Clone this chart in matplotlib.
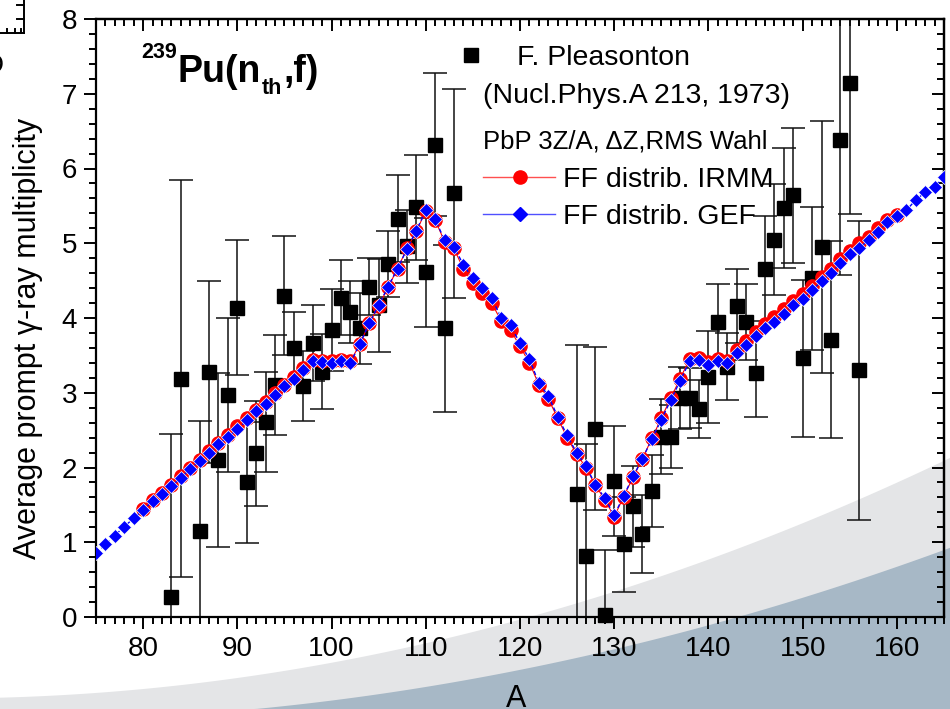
import numpy as np
import matplotlib
matplotlib.use('Agg')
import matplotlib.pyplot as plt
from matplotlib.lines import Line2D
from matplotlib.patches import Polygon
from matplotlib.ticker import MultipleLocator

plt.rcParams['font.family'] = ['Liberation Sans', 'DejaVu Sans']

# F. Pleasonton, Nucl.Phys.A 213 (1973)
exp_A = [83, 84, 86, 87, 88, 89, 90, 91, 92, 93, 94, 95, 96, 97, 98, 99, 100,
         101, 102, 103, 104, 105, 106, 107, 108, 109, 110, 111, 112, 113,
         126, 127, 128, 129, 130, 131, 132, 133, 134, 135, 136, 137, 138, 139,
         140, 141, 142, 143, 144, 145, 146, 147, 148, 149, 150, 151, 152, 153,
         154, 155, 156]
exp_y = [0.27, 3.19, 1.15, 3.28, 2.10, 2.97, 4.14, 1.80, 2.19, 2.61, 3.10, 4.30,
         3.60, 3.09, 3.67, 3.28, 3.84, 4.27, 4.08, 3.86, 4.42, 4.17, 4.72, 5.33,
         4.96, 5.48, 4.61, 6.32, 3.86, 5.67,
         1.64, 0.81, 2.52, 0.03, 1.82, 0.97, 1.48, 1.11, 1.69, 2.41, 2.41, 2.93,
         2.93, 2.78, 3.21, 3.95, 3.35, 4.16, 3.95, 3.27, 4.66, 5.05, 5.47, 5.64,
         3.46, 4.53, 4.95, 3.71, 6.38, 7.14, 3.30]
exp_err = [2.18, 2.66, 1.47, 1.22, 1.16, 1.03, 0.90, 0.81, 0.70, 0.67, 0.67, 0.80,
           0.48, 0.47, 0.51, 0.50, 0.55, 0.50, 0.42, 0.48, 0.38, 0.62, 0.44, 0.58,
           0.49, 0.70, 0.73, 0.96, 1.12, 1.40,
           2.00, 1.51, 1.09, 0.86, 0.74, 0.64, 0.54, 0.52, 0.48, 0.50, 0.42, 0.41,
           0.40, 0.39, 0.61, 0.51, 0.45, 0.50, 0.51, 0.60, 0.70, 0.74, 0.80, 0.90,
           1.05, 0.96, 1.69, 1.32, 1.80, 1.75, 2.00]

# PbP, FF distribution GEF (A = 75..165)
gef_A = list(range(75, 166))
gef_y = [0.86, 0.97, 1.09, 1.21, 1.32, 1.43, 1.55, 1.64, 1.75, 1.86,
         1.98, 2.09, 2.20, 2.31, 2.41, 2.51, 2.63, 2.75, 2.85, 2.97,
         3.09, 3.19, 3.31, 3.42, 3.41, 3.40, 3.42, 3.40, 3.65, 3.93,
         4.17, 4.42, 4.66, 4.92, 5.17, 5.44, 5.32, 5.04, 4.95, 4.71,
         4.53, 4.40, 4.27, 4.00, 3.90, 3.66, 3.45, 3.13, 2.96, 2.68,
         2.43, 2.20, 2.02, 1.77, 1.59, 1.36, 1.62, 1.88, 2.12, 2.38,
         2.64, 2.90, 3.16, 3.42, 3.44, 3.37, 3.42, 3.40, 3.53, 3.64,
         3.76, 3.86, 3.95, 4.06, 4.17, 4.26, 4.37, 4.49, 4.60, 4.73,
         4.85, 4.94, 5.04, 5.15, 5.29, 5.36, 5.44, 5.58, 5.68, 5.75,
         5.89]

# PbP, FF distribution IRMM (A = 80..160)
irmm_A = list(range(80, 161))
irmm_y = [1.44, 1.56, 1.66, 1.77, 1.88, 2.00, 2.10, 2.22, 2.33, 2.44,
          2.55, 2.66, 2.77, 2.88, 2.99, 3.10, 3.21, 3.33, 3.44, 3.43,
          3.42, 3.44, 3.42, 3.65, 3.93, 4.16, 4.41, 4.66, 4.93, 5.16,
          5.43, 5.31, 5.02, 4.93, 4.65, 4.47, 4.33, 4.20, 3.96, 3.84,
          3.62, 3.40, 3.11, 2.92, 2.66, 2.40, 2.18, 2.00, 1.76, 1.57,
          1.34, 1.61, 1.87, 2.12, 2.39, 2.66, 2.93, 3.19, 3.45, 3.47,
          3.41, 3.45, 3.43, 3.57, 3.69, 3.81, 3.92, 4.02, 4.12, 4.23,
          4.32, 4.43, 4.55, 4.66, 4.79, 4.90, 5.00, 5.09, 5.20, 5.31,
          5.38]

W, H = 950, 709
fig = plt.figure(figsize=(W / 100, H / 100), dpi=100)
fig.patch.set_facecolor('white')


def fx(px):
    return px / W


def fy(py):
    return 1 - py / H


# decorative swooshes behind the plot
xs = np.linspace(0, W, 300)
c_light = np.polyfit([0, 80, 380, 650, 950], [697, 695, 653, 580, 458], 2)
c_dark = np.polyfit([250, 380, 650, 950], [709, 695, 640, 548], 2)
for coef, col in [(c_light, '#e4e5e7'), (c_dark, '#a7b8c6')]:
    ys = np.minimum(np.polyval(coef, xs), H)
    verts = [(fx(x), fy(y)) for x, y in zip(xs, ys)] + [(1, 0), (0, 0)]
    fig.add_artist(Polygon(verts, closed=True, facecolor=col, edgecolor='none',
                           transform=fig.transFigure, zorder=-5))

ax = fig.add_axes([fx(96), fy(617), (944 - 96) / W, (617 - 19) / H])
ax.set_facecolor('none')

ax.errorbar(exp_A, exp_y, yerr=exp_err, fmt='none', ecolor='#111111',
            elinewidth=1.1, capsize=8.5, capthick=1.1, zorder=2)
ax.plot(exp_A, exp_y, 's', color='black', ms=10, clip_on=False, zorder=3)
ax.plot(irmm_A, irmm_y, '-', color='red', lw=0.8, marker='o', ms=9.5,
        mfc='red', mec='red', zorder=4)
ax.plot(gef_A, gef_y, '--', color='blue', lw=1.0, dashes=(3, 2), marker='D',
        ms=7.6, mfc='blue', mec='white', mew=0.5, zorder=5)

ax.set_xlim(75, 165)
ax.set_ylim(0, 8)
ax.xaxis.set_major_locator(MultipleLocator(10))
ax.xaxis.set_minor_locator(MultipleLocator(1))
ax.yaxis.set_major_locator(MultipleLocator(1))
ax.yaxis.set_minor_locator(MultipleLocator(0.2))
for s in ax.spines.values():
    s.set_linewidth(1.6)
ax.tick_params(which='major', direction='out', length=8.5, width=1.4,
               labelsize=20, pad=5, top=False, right=False)
ax.tick_params(which='minor', direction='out', length=5, width=1.4,
               top=False, right=False)

secx = ax.secondary_xaxis('top')
secx.xaxis.set_major_locator(MultipleLocator(10))
secx.xaxis.set_minor_locator(MultipleLocator(1))
secx.tick_params(which='major', direction='in', length=8.5, width=1.4, labeltop=False)
secx.tick_params(which='minor', direction='in', length=5, width=1.4)
secx.spines['top'].set_linewidth(1.6)
secy = ax.secondary_yaxis('right')
secy.yaxis.set_major_locator(MultipleLocator(1))
secy.yaxis.set_minor_locator(MultipleLocator(0.2))
secy.tick_params(which='major', direction='in', length=8.5, width=1.4, labelright=False)
secy.tick_params(which='minor', direction='in', length=5, width=1.4)
secy.spines['right'].set_linewidth(1.6)

ax.set_ylabel('Average prompt γ-ray multiplicity', fontsize=22)
ax.yaxis.set_label_coords(-0.062, 0.465)
ax.set_xlabel('A', fontsize=22)
ax.xaxis.set_label_coords(0.496, -0.112)

# legend drawn by hand (Origin style layout)
fig.add_artist(Line2D([fx(471)], [fy(55)], marker='s', ms=10, color='black',
                      transform=fig.transFigure))
fig.text(fx(517), fy(65), 'F. Pleasonton', fontsize=20.5, va='baseline')
fig.text(fx(483), fy(103), '(Nucl.Phys.A 213, 1973)', fontsize=20.5, va='baseline')
fig.text(fx(483), fy(149), 'PbP 3Z/A, ΔZ,RMS Wahl', fontsize=18.5, va='baseline')
fig.add_artist(Line2D([fx(483), fx(555)], [fy(177), fy(177)], color='#ff5050',
                      lw=1.0, transform=fig.transFigure))
fig.add_artist(Line2D([fx(520)], [fy(177)], marker='o', ms=9.5, color='red',
                      transform=fig.transFigure))
fig.text(fx(563), fy(187), 'FF distrib. IRMM', fontsize=20.5, va='baseline')
fig.add_artist(Line2D([fx(483), fx(555)], [fy(214), fy(214)], color='#5050ff',
                      lw=1.0, transform=fig.transFigure))
fig.add_artist(Line2D([fx(520)], [fy(214)], marker='D', ms=7.6, color='blue',
                      transform=fig.transFigure))
fig.text(fx(563), fy(224), 'FF distrib. GEF', fontsize=20.5, va='baseline')

# reaction label, pieces chained left to right
renderer = fig.canvas.get_renderer()
x = 141
for txt, size, base in [('239', 15.5, 58), ('Pu(n', 27, 82), ('th', 15.5, 94), (',f)', 27, 82)]:
    t = fig.text(fx(x), fy(base), txt, fontsize=size, fontweight='bold',
                 va='baseline', ha='left')
    x = t.get_window_extent(renderer=renderer).x1 + 1

# cropped remnant of the neighbouring panel (top-left corner)
for xx, yy in [([24, 24], [0, 33]), ([0, 24], [33, 33]),
               ([17, 24], [5, 5]), ([17, 24], [19, 19]),
               ([7, 7], [29, 33]), ([15, 15], [29, 33]), ([21, 21], [29, 33])]:
    fig.add_artist(Line2D([fx(v) for v in xx], [fy(v) for v in yy], color='black',
                          lw=1.4, transform=fig.transFigure))
fig.text(fx(4), fy(66), 'D', fontsize=20, ha='right', va='center')

fig.savefig('out.png', dpi=100)
